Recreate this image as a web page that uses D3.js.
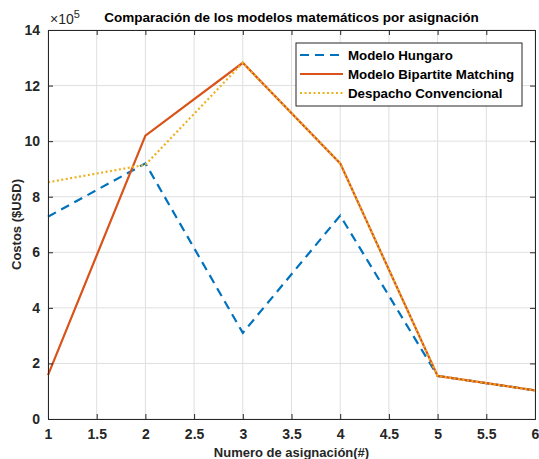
<!DOCTYPE html>
<html>
<head>
<meta charset="utf-8">
<script src="https://cdn.jsdelivr.net/npm/d3@7"></script>
<style>
  body { margin: 0; background: #fff; }
  svg { font-family: "Liberation Sans", Arial, sans-serif; }
  .tick text { font-size: 14px; font-weight: bold; fill: #262626; }
</style>
</head>
<body>
<div id="chart"></div>
<script>
// assignment number
const assignments = [1, 2, 3, 4, 5, 6];
// costs in units of 1e5 USD
const hungaro = [7.28, 9.2, 3.1, 7.32, 1.55, 1.03];
const bipartite = [1.58, 10.2, 12.82, 9.2, 1.55, 1.03];
const despacho = [8.52, 9.15, 12.82, 9.2, 1.55, 1.03];
const seriesNames = ['Modelo Hungaro', 'Modelo Bipartite Matching', 'Despacho Convencional'];
const xTicks = [1, 1.5, 2, 2.5, 3, 3.5, 4, 4.5, 5, 5.5, 6];
const yTicks = [0, 2, 4, 6, 8, 10, 12, 14];

const W = 539, H = 459;
const margin = {top: 30, right: 4, bottom: 40, left: 48};
const width = W - margin.left - margin.right;
const height = H - margin.top - margin.bottom;

const svg = d3.select('#chart').append('svg')
    .attr('width', W)
    .attr('height', H);

const g = svg.append('g')
    .attr('transform', `translate(${margin.left},${margin.top})`);

const x = d3.scaleLinear().domain([1, 6]).range([0, width]);
const y = d3.scaleLinear().domain([0, 14]).range([height, 0]);

// grid
g.append('g').selectAll('line.gx')
    .data(xTicks).enter().append('line')
    .attr('x1', d => x(d)).attr('x2', d => x(d))
    .attr('y1', 0).attr('y2', height)
    .attr('stroke', '#dfdfdf').attr('stroke-width', 1);
g.append('g').selectAll('line.gy')
    .data(yTicks).enter().append('line')
    .attr('y1', d => y(d)).attr('y2', d => y(d))
    .attr('x1', 0).attr('x2', width)
    .attr('stroke', '#dfdfdf').attr('stroke-width', 1);

// series
const series = [
    {name: seriesNames[0], values: hungaro, color: '#0072BD', dash: '9,6', width: 2.2},
    {name: seriesNames[1], values: bipartite, color: '#D95319', dash: null, width: 2.2},
    {name: seriesNames[2], values: despacho, color: '#EDB120', dash: '2,2.5', width: 2.2}
];

const line = d3.line()
    .x((d, i) => x(assignments[i]))
    .y(d => y(d));

series.forEach(s => {
    g.append('path')
        .datum(s.values)
        .attr('fill', 'none')
        .attr('stroke', s.color)
        .attr('stroke-width', s.width)
        .attr('stroke-dasharray', s.dash)
        .attr('d', line);
});

// axes (ticks inward, box on)
const axisColor = '#262626';
const xAxis = g.append('g')
    .attr('transform', `translate(0,${height})`)
    .call(d3.axisBottom(x).tickValues(xTicks).tickSize(-5).tickPadding(10).tickFormat(d3.format('')));
const yAxis = g.append('g')
    .call(d3.axisLeft(y).tickValues(yTicks).tickSize(-5).tickPadding(8).tickFormat(d3.format('')));
const xTop = g.append('g')
    .call(d3.axisTop(x).tickValues(xTicks).tickSize(-5).tickFormat(''));
const yRight = g.append('g')
    .attr('transform', `translate(${width},0)`)
    .call(d3.axisRight(y).tickValues(yTicks).tickSize(-5).tickFormat(''));
[xAxis, yAxis, xTop, yRight].forEach(a => {
    a.selectAll('.domain').attr('stroke', axisColor).attr('stroke-width', 1);
    a.selectAll('.tick line').attr('stroke', axisColor);
});

// exponent label
const expo = svg.append('text')
    .attr('x', margin.left + 2)
    .attr('y', margin.top - 6)
    .style('font-size', '14px')
    .attr('fill', axisColor);
expo.append('tspan').text('\u00d710');
expo.append('tspan').attr('dy', -6).style('font-size', '11px').text('5');

// title
svg.append('text')
    .attr('x', margin.left + width / 2)
    .attr('y', margin.top - 8)
    .attr('text-anchor', 'middle')
    .style('font-size', '13.5px')
    .style('font-weight', 'bold')
    .text('Comparación de los modelos matemáticos por asignación');

// axis labels
svg.append('text')
    .attr('x', margin.left + width / 2)
    .attr('y', H - 2)
    .attr('text-anchor', 'middle')
    .style('font-size', '13px')
    .style('font-weight', 'bold')
    .attr('fill', axisColor)
    .text('Numero de asignación(#)');

svg.append('text')
    .attr('transform', `translate(21,${margin.top + height / 2}) rotate(-90)`)
    .attr('text-anchor', 'middle')
    .style('font-size', '13px')
    .style('font-weight', 'bold')
    .attr('fill', axisColor)
    .text('Costos ($USD)');

// legend
const legend = svg.append('g')
    .attr('transform', 'translate(296,43)');
legend.append('rect')
    .attr('width', 226).attr('height', 63)
    .attr('fill', '#fff')
    .attr('stroke', axisColor).attr('stroke-width', 1);
series.forEach((s, i) => {
    const ly = 12 + i * 19;
    legend.append('line')
        .attr('x1', 4).attr('x2', 47)
        .attr('y1', ly).attr('y2', ly)
        .attr('stroke', s.color)
        .attr('stroke-width', s.width)
        .attr('stroke-dasharray', s.dash);
    legend.append('text')
        .attr('x', 52).attr('y', ly + 5)
        .style('font-size', '13.3px')
        .style('font-weight', 'bold')
        .attr('fill', '#000')
        .text(s.name);
});
</script>
</body>
</html>
